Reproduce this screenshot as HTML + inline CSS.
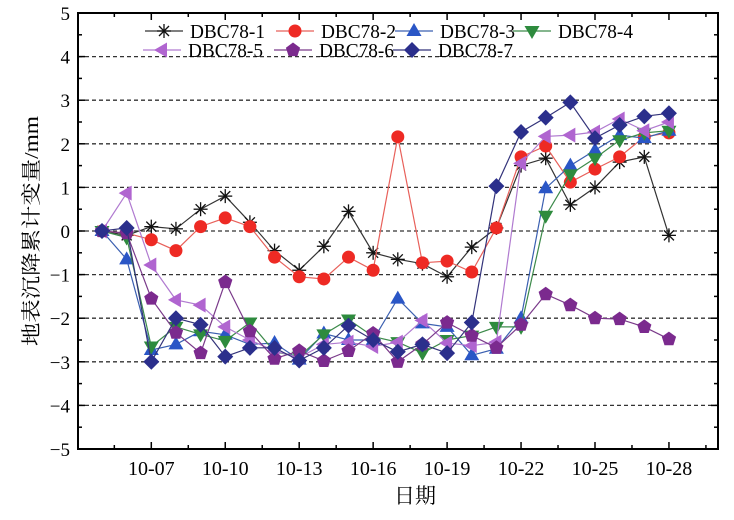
<!DOCTYPE html>
<html><head><meta charset="utf-8"><style>
body{margin:0;background:#fff;width:734px;height:515px;overflow:hidden}
svg text{font-family:"Liberation Serif","Noto Serif CJK SC",serif}
</style></head><body>
<svg id="s" width="734" height="515" xmlns="http://www.w3.org/2000/svg"></svg>
<script>
const S=document.getElementById('s');let h='';
const L=78,R=718,T=13,B=449;
const X=d=>102+(d-5)*24.65, Y=v=>231-43.6*v;
for(let v=-4;v<=4;v++){h+=`<line x1="${L}" x2="${R}" y1="${Y(v)}" y2="${Y(v)}" stroke="#333" stroke-width="1.3" stroke-dasharray="4,3"/>`;}
for(let v=-5;v<=5;v+=0.5){const y=Y(v),len=(v%1===0)?7:4;
h+=`<line x1="${L}" x2="${L+len}" y1="${y}" y2="${y}" stroke="#000" stroke-width="1.5"/><line x1="${R}" x2="${R-len}" y1="${y}" y2="${y}" stroke="#000" stroke-width="1.5"/>`;
if(v%1===0)h+=`<text x="${L-8}" y="${y+7}" font-size="19" text-anchor="end">${v<0?'\u2212'+(-v):v}</text>`;}
const labs=['10-07','10-10','10-13','10-16','10-19','10-22','10-25','10-28'];
for(let d=5.5;d<=29.5;d+=1.5){const x=X(d),maj=((d-7)%3===0);const len=maj?7:4;
if(x<L||x>R)continue;
h+=`<line x1="${x}" x2="${x}" y1="${B}" y2="${B-len}" stroke="#000" stroke-width="1.5"/><line x1="${x}" x2="${x}" y1="${T}" y2="${T+len}" stroke="#000" stroke-width="1.5"/>`;
if(maj)h+=`<text x="${x}" y="${B+26}" font-size="20" text-anchor="middle">${labs[(d-7)/3]}</text>`;}
h+=`<rect x="${L}" y="${T}" width="${R-L}" height="${B-T}" fill="none" stroke="#000" stroke-width="2"/>`;
h+=`<text x="415" y="503" font-size="21" text-anchor="middle">日期</text>`;
h+=`<text transform="translate(38,231) rotate(-90)" font-size="20" text-anchor="middle" textLength="230" lengthAdjust="spacingAndGlyphs">地表沉降累计变量/mm</text>`;
const D={
k:[0,-0.1,0.1,0.05,0.5,0.8,0.2,-0.45,-0.9,-0.35,0.45,-0.5,-0.65,-0.75,-1.05,-0.37,0.07,1.5,1.67,0.6,1.0,1.58,1.7,-0.1],
r:[0,-0.05,-0.2,-0.45,0.1,0.3,0.1,-0.6,-1.05,-1.1,-0.6,-0.9,2.16,-0.73,-0.69,-0.94,0.07,1.7,1.95,1.12,1.42,1.7,2.16,2.25],
b:[0,-0.65,-2.73,-2.6,-2.3,-2.38,-2.6,-2.57,-2.95,-2.35,-2.5,-2.5,-1.55,-2.12,-2.2,-2.85,-2.7,-2.0,0.98,1.5,1.85,2.2,2.13,2.3],
g:[0,-0.15,-2.65,-2.2,-2.37,-2.52,-2.1,-2.77,-2.88,-2.37,-2.03,-2.42,-2.55,-2.8,-2.5,-2.4,-2.2,-2.2,0.35,1.3,1.67,2.08,2.25,2.3],
l:[0,0.87,-0.78,-1.58,-1.7,-2.2,-2.5,-2.75,-2.9,-2.6,-2.55,-2.65,-2.55,-2.05,-2.57,-2.63,-2.55,1.55,2.17,2.2,2.27,2.57,2.3,2.5],
p:[0,-0.05,-1.55,-2.33,-2.8,-1.17,-2.3,-2.93,-2.75,-2.98,-2.75,-2.35,-3.0,-2.6,-2.1,-2.4,-2.68,-2.15,-1.45,-1.7,-2.0,-2.02,-2.2,-2.48],
n:[0,0.07,-3.0,-2.0,-2.15,-2.88,-2.68,-2.68,-2.97,-2.68,-2.17,-2.5,-2.77,-2.6,-2.8,-2.1,1.03,2.27,2.6,2.95,2.13,2.43,2.63,2.7]};
const C={k:['#333','#000'],r:['#e8605a','#ee2a24'],b:['#3a5fb0','#2a56c6'],g:['#3c8a4a','#2e8b3e'],l:['#b07ad0','#b065d0'],p:['#7a3a8a','#7b2a8e'],n:['#33337a','#2b2f8c']};
function mk(t,x,y){const c=C[t][1];
if(t==='k')return `<g stroke="#111" stroke-width="1.3"><line x1="${x-7}" x2="${x+7}" y1="${y}" y2="${y}"/><line x1="${x}" x2="${x}" y1="${y-7}" y2="${y+7}"/><line x1="${x-5}" x2="${x+5}" y1="${y-5}" y2="${y+5}"/><line x1="${x-5}" x2="${x+5}" y1="${y+5}" y2="${y-5}"/></g>`;
if(t==='r')return `<circle cx="${x}" cy="${y}" r="6.5" fill="${c}"/>`;
if(t==='b')return `<polygon points="${x},${y-8} ${x+7.5},${y+5} ${x-7.5},${y+5}" fill="${c}"/>`;
if(t==='g')return `<polygon points="${x},${y+8} ${x+7.5},${y-5} ${x-7.5},${y-5}" fill="${c}"/>`;
if(t==='l')return `<polygon points="${x-8},${y} ${x+5},${y-7.5} ${x+5},${y+7.5}" fill="${c}"/>`;
if(t==='p'){let p=[];for(let i=0;i<5;i++){const a=-Math.PI/2+i*2*Math.PI/5;p.push((x+7.5*Math.cos(a)).toFixed(1)+','+(y+7.5*Math.sin(a)).toFixed(1));}return `<polygon points="${p.join(' ')}" fill="${c}"/>`;}
if(t==='n')return `<polygon points="${x},${y-8} ${x+8},${y} ${x},${y+8} ${x-8},${y}" fill="${c}"/>`;}
for(const t of ['k','r','b','g','l','p','n']){const pts=D[t].map((v,i)=>X(5+i).toFixed(1)+','+Y(v).toFixed(1)).join(' ');
h+=`<polyline points="${pts}" fill="none" stroke="${C[t][0]}" stroke-width="1.2"/>`;
D[t].forEach((v,i)=>h+=mk(t,X(5+i),Y(v)));}
const leg=[['k',145,31,'DBC78-1'],['r',276,31,'DBC78-2'],['b',395,31,'DBC78-3'],['g',513,31,'DBC78-4'],['l',143,50,'DBC78-5'],['p',274,50,'DBC78-6'],['n',393,50,'DBC78-7']];
for(const [t,x,y,s] of leg){h+=`<line x1="${x}" x2="${x+38}" y1="${y}" y2="${y}" stroke="${C[t][0]}" stroke-width="1.3"/>`+mk(t,x+19,y)+`<text x="${x+45}" y="${y+7}" font-size="20" textLength="75" lengthAdjust="spacingAndGlyphs">${s}</text>`;}
S.innerHTML=h;
</script>
</body></html>
